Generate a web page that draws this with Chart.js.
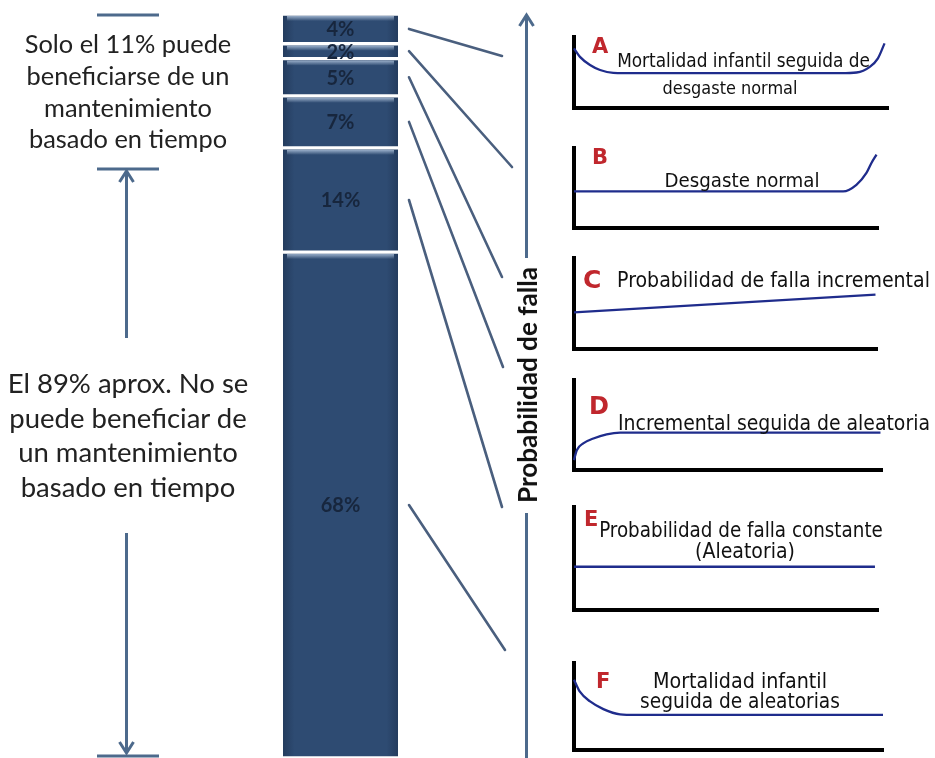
<!DOCTYPE html>
<html>
<head>
<meta charset="utf-8">
<script src="https://cdn.jsdelivr.net/npm/chart.js@4.4.1/dist/chart.umd.min.js"></script>
<style>
html,body{margin:0;padding:0;background:#fff;}
#wrap{position:relative;width:935px;height:758px;overflow:hidden;background:#fff;}
#wrap canvas{position:absolute;}
.t{position:absolute;white-space:nowrap;}
</style>
</head>
<body>
<div id="wrap">
  <canvas id="main" width="935" height="758" style="left:0;top:0;width:935px;height:758px"></canvas>
</div>
<script>
// ---------------- DATA ----------------
const segmentLabels = ['4%', '2%', '5%', '7%', '14%', '68%'];
const segmentValues = [4, 2, 5, 7, 14, 68];
const curveLetters = ['A', 'B', 'C', 'D', 'E', 'F'];
// failure-probability curves, [age 0-100, probability 0-100]
const curveA = [[0,84],[1.9,72],[5.1,60.5],[8.3,53.5],[12.5,49.5],[20,49],[85,49],[90,50],[94.2,58],[96.8,70],[98.9,91]];
const curveB = [[0,45.8],[88.5,45.8],[92.9,54],[96.2,68.8],[97.8,81],[99.5,91.7]];
const curveC = [[0,40.3],[99.5,59.7]];
const curveD = [[0,11],[0.9,22],[3,29.6],[6.3,35],[10.6,39.6],[15,41.5],[99.5,41.5]];
const curveE = [[0,42],[99,42]];
const curveF = [[0,80.8],[1.9,67],[5.2,55.8],[9.5,47],[14.9,41],[20,40.4],[100,40.4]];
const curveTitles = [
  ['Mortalidad infantil seguida de', 'desgaste normal'],
  ['Desgaste normal'],
  ['Probabilidad de falla incremental'],
  ['Incremental seguida de aleatoria'],
  ['Probabilidad de falla constante', '(Aleatoria)'],
  ['Mortalidad infantil', 'seguida de aleatorias']
];
const leftTopLines = ['Solo el 11% puede', 'beneficiarse de un', 'mantenimiento', 'basado en tiempo'];
const leftBottomLines = ['El 89% aprox. No se', 'puede beneficiar de', 'un mantenimiento', 'basado en tiempo'];
const axisTitle = 'Probabilidad de falla';

// ---------------- LAYOUT ----------------
const BAR_LEFT = 283, BAR_RIGHT = 398, BAR_TOP = 14, BAR_BOTTOM = 758;
const FRAME_LEFT = 574;
const frames = [
  {top:37, bottom:108, right:888},
  {top:148, bottom:228, right:878},
  {top:258, bottom:349, right:877},
  {top:380, bottom:470, right:882},
  {top:507, bottom:610, right:878},
  {top:663, bottom:750, right:883}
];
const connectorEnds = [[502,56],[512,167],[502,277],[503,367],[502,507],[505,650]];
const titleSpecs = [
  [{cx:743.5, base:67, w:253}, {cx:730, base:94, w:135}],
  [{cx:742, base:187, w:155}],
  [{cx:773.5, base:287, w:313}],
  [{cx:774, base:430, w:312}],
  [{cx:741, base:537, w:284}, {cx:745, base:558, w:100}],
  [{cx:740, base:688, w:174}, {cx:740, base:708, w:200}]
];
const letterSpecs = [
  {x:592, base:53, size:21}, {x:592, base:164, size:21}, {x:583, base:288, size:25},
  {x:589, base:414, size:24}, {x:584, base:526, size:21}, {x:596, base:688, size:21}
];
const ARROW_COLOR = '#4d6a8c';
const LINE_COLOR = '#4a5f7e';
const CURVE_COLOR = '#1f2c8c';
const BAR_FONT = "'Lato', 'Open Sans', sans-serif";
const LEFT_FONT = "'Lato', 'Open Sans', sans-serif";
const LABEL_FONT = "'DejaVu Sans Condensed', 'DejaVu Sans', sans-serif";

const wrap = document.getElementById('wrap');
const meas = document.createElement('canvas').getContext('2d');
function fitSize(text, family, weight, targetW) {
  meas.font = weight + ' 100px ' + family;
  return 100 * targetW / meas.measureText(text).width;
}
function fontMetrics(family, weight, size) {
  meas.font = weight + ' ' + size + 'px ' + family;
  const m = meas.measureText('Hg');
  return {asc: m.fontBoundingBoxAscent, desc: m.fontBoundingBoxDescent};
}
function addText(text, o) {
  const weight = o.weight || 'normal';
  const d = document.createElement('div');
  d.className = 't';
  d.textContent = text;
  const fm = fontMetrics(o.family, weight, o.size);
  d.style.font = weight + ' ' + o.size + 'px ' + o.family;
  d.style.lineHeight = (fm.asc + fm.desc) + 'px';
  d.style.top = (o.base - fm.asc) + 'px';
  d.style.color = o.color;
  d.style.left = o.x + 'px';
  if (o.align === 'center') d.style.transform = 'translateX(-50%)';
  wrap.appendChild(d);
  return d;
}

// ---------------- LEFT TEXT ----------------
const topSize = fitSize(leftTopLines[1], LEFT_FONT, 'normal', 203);
[53, 85, 117, 148].forEach((b, i) => addText(leftTopLines[i], {family:LEFT_FONT, size:topSize, x:128, base:b, align:'center', color:'#222'}));
const botSize = fitSize(leftBottomLines[1], LEFT_FONT, 'normal', 238);
[393, 428, 462, 497].forEach((b, i) => addText(leftBottomLines[i], {family:LEFT_FONT, size:botSize, x:128, base:b, align:'center', color:'#222'}));

// ---------------- AXIS TITLE (rotated) ----------------
(function(){
  const fam = "'Lato', 'Open Sans', sans-serif";
  const size = fitSize(axisTitle, fam, 'bold', 236);
  const fm = fontMetrics(fam, 'bold', size);
  const H = fm.asc + fm.desc;
  const d = document.createElement('div');
  d.className = 't';
  d.textContent = axisTitle;
  d.style.font = 'bold ' + size + 'px ' + fam;
  d.style.lineHeight = H + 'px';
  d.style.color = '#111';
  const cx = 537 - (fm.asc - H / 2);
  d.style.left = cx + 'px';
  d.style.top = '385px';
  d.style.transform = 'translate(-50%,-50%) rotate(-90deg)';
  wrap.appendChild(d);
})();

// ---------------- MAIN BAR ----------------
function arrowHead(ctx, x, y, dir) {
  ctx.beginPath();
  ctx.moveTo(x - 7, y + dir * 11);
  ctx.lineTo(x, y);
  ctx.lineTo(x + 7, y + dir * 11);
  ctx.stroke();
}
const decorPlugin = {
  id: 'decor',
  afterDatasetsDraw(chart) {
    const ctx = chart.ctx;
    ctx.save();
    chart.data.datasets.forEach((ds, i) => {
      const el = chart.getDatasetMeta(i).data[0];
      const top = Math.min(el.y, el.base), bot = Math.max(el.y, el.base);
      const l = el.x - el.width / 2, r = el.x + el.width / 2;
      const g = ctx.createLinearGradient(0, top + 2, 0, top + 7);
      g.addColorStop(0, 'rgba(170,190,215,0.85)');
      g.addColorStop(1, 'rgba(170,190,215,0)');
      ctx.fillStyle = g;
      ctx.fillRect(l + 4, top + 2, el.width - 8, Math.min(5, bot - top - 4));
      const cy = (top + bot) / 2;
      ctx.fillStyle = '#17263d';
      ctx.font = 'bold 20px ' + BAR_FONT;
      ctx.textAlign = 'center';
      ctx.textBaseline = 'middle';
      ctx.fillText(segmentLabels[i], el.x, cy + 1);
      ctx.strokeStyle = LINE_COLOR;
      ctx.lineWidth = 2.6;
      ctx.lineCap = 'round';
      ctx.beginPath();
      ctx.moveTo(r + 11, cy);
      ctx.lineTo(connectorEnds[i][0], connectorEnds[i][1]);
      ctx.stroke();
    });
    ctx.strokeStyle = ARROW_COLOR;
    ctx.lineWidth = 3;
    ctx.lineCap = 'butt';
    [15, 169, 756].forEach((y) => {
      ctx.beginPath(); ctx.moveTo(97, y); ctx.lineTo(159, y); ctx.stroke();
    });
    ctx.beginPath(); ctx.moveTo(126.5, 338); ctx.lineTo(126.5, 171); ctx.stroke();
    arrowHead(ctx, 126.5, 171, 1);
    ctx.beginPath(); ctx.moveTo(126.5, 533); ctx.lineTo(126.5, 753); ctx.stroke();
    arrowHead(ctx, 126.5, 753, -1);
    ctx.beginPath(); ctx.moveTo(526.5, 258); ctx.lineTo(526.5, 15); ctx.stroke();
    arrowHead(ctx, 526.5, 15, 1);
    ctx.beginPath(); ctx.moveTo(526.5, 513); ctx.lineTo(526.5, 758); ctx.stroke();
    ctx.restore();
  }
};

new Chart(document.getElementById('main'), {
  type: 'bar',
  data: {
    labels: ['Patrones de falla'],
    datasets: segmentValues.map((v, i) => ({
      label: segmentLabels[i],
      data: [v],
      stack: 's',
      backgroundColor: (c) => {
        const ca = c.chart.chartArea;
        if (!ca) return '#2e4b72';
        const g = c.chart.ctx.createLinearGradient(ca.left, 0, ca.right, 0);
        g.addColorStop(0, '#243c5e');
        g.addColorStop(0.1, '#2e4b72');
        g.addColorStop(0.9, '#2e4b72');
        g.addColorStop(1, '#243c5e');
        return g;
      },
      borderColor: '#ffffff',
      borderWidth: {top: 2, bottom: 2, left: 0, right: 0},
      borderSkipped: false
    }))
  },
  options: {
    responsive: false,
    animation: false,
    devicePixelRatio: 1,
    layout: {padding: {left: BAR_LEFT, right: 935 - BAR_RIGHT, top: BAR_TOP, bottom: 758 - BAR_BOTTOM}},
    barPercentage: 1,
    categoryPercentage: 1,
    plugins: {legend: {display: false}, tooltip: {enabled: false}},
    scales: {
      x: {display: false, stacked: true},
      y: {display: false, stacked: true, reverse: true, min: 0, max: 100}
    }
  },
  plugins: [decorPlugin]
});

// ---------------- CURVE CHARTS ----------------
const curves = [curveA, curveB, curveC, curveD, curveE, curveF];
const PAD = 6;
curves.forEach((pts, i) => {
  const f = frames[i];
  const cv = document.createElement('canvas');
  const w = f.right - FRAME_LEFT + 2 * PAD, h = f.bottom - f.top + 2 * PAD;
  cv.width = w; cv.height = h;
  cv.style.left = (FRAME_LEFT - PAD) + 'px';
  cv.style.top = (f.top - PAD) + 'px';
  cv.style.width = w + 'px'; cv.style.height = h + 'px';
  wrap.appendChild(cv);
  const axisOpts = {
    type: 'linear', min: 0, max: 100, display: true,
    ticks: {display: false},
    grid: {display: false, drawTicks: false},
    border: {display: true, color: '#000', width: 4}
  };
  new Chart(cv, {
    type: 'line',
    data: {datasets: [{
      label: 'Curva ' + curveLetters[i],
      data: pts.map(p => ({x: p[0], y: p[1]})),
      borderColor: CURVE_COLOR,
      borderWidth: 2.3,
      pointRadius: 0,
      cubicInterpolationMode: 'monotone',
      clip: false
    }]},
    options: {
      responsive: false, animation: false, devicePixelRatio: 1,
      layout: {padding: PAD},
      plugins: {legend: {display: false}, tooltip: {enabled: false}},
      scales: {x: Object.assign({position: 'bottom'}, axisOpts), y: Object.assign({position: 'left'}, axisOpts)}
    }
  });
  curveTitles[i].forEach((txt, k) => {
    const s = titleSpecs[i][k];
    const size = fitSize(txt, LABEL_FONT, 'normal', s.w);
    addText(txt, {family: LABEL_FONT, size: size, x: s.cx, base: s.base, align: 'center', color: '#111'});
  });
  const ls = letterSpecs[i];
  addText(curveLetters[i], {family: "'DejaVu Sans', sans-serif", weight: 'bold', size: ls.size, x: ls.x, base: ls.base, color: '#c0272d'});
});
</script>
</body>
</html>
